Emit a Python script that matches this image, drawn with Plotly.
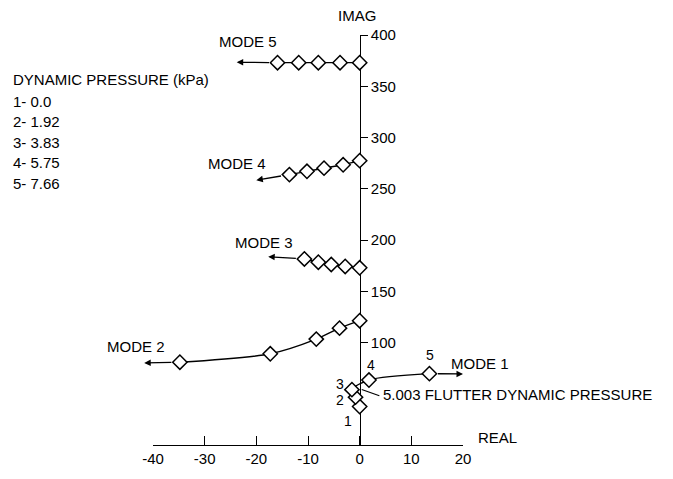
import plotly.graph_objects as go

# ---------------- data ----------------
pressures = [0.0, 1.92, 3.83, 5.75, 7.66]          # kPa, points 1..5

mode1_re = [0.0, -0.8, -1.5, 1.8, 13.5]
mode1_im = [37.5, 46.7, 54.0, 63.4, 69.6]
mode2_re = [0.0, -3.9, -8.4, -17.3, -34.8]
mode2_im = [121.3, 114.0, 103.3, 89.0, 80.8]
mode3_re = [0.0, -2.8, -5.5, -8.0, -10.7]
mode3_im = [172.9, 174.2, 176.1, 178.3, 181.5]
mode4_re = [0.0, -3.2, -6.9, -10.2, -13.6]
mode4_im = [277.4, 273.4, 270.1, 267.0, 263.8]
mode5_re = [0.0, -3.8, -8.0, -11.8, -15.9]
mode5_im = [373.0, 373.0, 373.0, 373.0, 373.0]

# arrow tips showing the trend direction of each mode
arrow_tip_re = [20.0, -41.7, -17.7, -20.0, -23.8]
arrow_tip_im = [69.3, 80.1, 183.7, 258.4, 373.4]

flutter_q = 5.003
flutter_re, flutter_im = 0.4, 54.2

x_ticks = [-40, -30, -20, -10, 0, 10, 20]
x_ticktext = ["-40", "-30", "-20", "-10", "0", "10", "20"]
y_ticks = [100, 150, 200, 250, 300, 350, 400]

modes = [(mode1_re, mode1_im), (mode2_re, mode2_im), (mode3_re, mode3_im),
         (mode4_re, mode4_im), (mode5_re, mode5_im)]

# ---------------- layout geometry ----------------
W, H = 673, 479
ML, MR, MT, MB = 153, 210, 35, 23
PW, PH = W - ML - MR, H - MT - MB

def P(xpix, ypix):
    return (xpix - ML) / PW, (H - MB - ypix) / PH

FONT = "Liberation Sans, Arial, sans-serif"
FS = 15

fig = go.Figure()
for re_, im_ in modes:
    fig.add_trace(go.Scatter(
        x=re_, y=im_, mode="lines+markers",
        line=dict(color="black", width=1.4, shape="spline", smoothing=0.8),
        marker=dict(symbol="diamond", size=11, color="white",
                    line=dict(color="black", width=1.5)),
        showlegend=False, cliponaxis=False, hoverinfo="skip"))

ann = []
# trend arrows
for (re_, im_), tx, ty in zip(modes, arrow_tip_re, arrow_tip_im):
    ann.append(dict(x=tx, y=ty, ax=re_[-1], ay=im_[-1], xref="x", yref="y",
                    axref="x", ayref="y", text="", showarrow=True,
                    arrowhead=2, arrowsize=1, arrowwidth=1.3,
                    arrowcolor="black", startstandoff=7))

def label(text, xpix, ypix, anchor="center", size=FS):
    xp, yp = P(xpix, ypix)
    ann.append(dict(x=xp, y=yp, xref="paper", yref="paper", text=text,
                    showarrow=False, xanchor=anchor, yanchor="middle",
                    borderpad=0,
                    font=dict(family=FONT, size=size, color="black")))

label("MODE 5", 248, 42)
label("MODE 4", 237, 167)
label("MODE 3", 264, 248)
label("MODE 2", 136, 355)
label("MODE 1", 480, 372)
label("IMAG", 357, 15)
label("REAL", 477, 448, "left")
label("DYNAMIC PRESSURE (kPa)", 12, 81, "left")
for i, q in enumerate(pressures):
    label(f"{i+1}- {q:.2f}".rstrip("0") if q != 0 else f"{i+1}- 0.0", 12, 103 + 21 * i, "left")

# point numbers on mode 1
for txt, xp_, yp_ in [("1", 348, 431), ("2", 340, 410), ("3", 340, 393),
                      ("4", 371, 374), ("5", 430, 364)]:
    label(txt, xp_, yp_, size=14)

# flutter leader + text
ann.append(dict(x=flutter_re, y=flutter_im, ax=4.1, ay=47.5, xref="x", yref="y",
                axref="x", ayref="y", text="", showarrow=True, arrowhead=0,
                arrowwidth=1.2, arrowcolor="black"))
label(f"{flutter_q:.3f} FLUTTER DYNAMIC PRESSURE", 382, 404, "left")

fig.update_layout(
    width=W, height=H, margin=dict(l=ML, r=MR, t=MT, b=MB),
    paper_bgcolor="white", plot_bgcolor="white",
    font=dict(family=FONT, size=FS, color="black"),
    annotations=ann,
    xaxis=dict(range=[-40, 20], tickvals=x_ticks, ticktext=x_ticktext,
               ticks="inside", ticklen=9, tickwidth=1.3, tickcolor="black",
               showline=True, linecolor="black", linewidth=1.4,
               showgrid=False, zeroline=False, fixedrange=True,
               tickfont=dict(family=FONT, size=FS), layer="below traces"),
    yaxis=dict(range=[0, 400], tickvals=y_ticks, anchor="free",
               position=40 / 60, side="right", ticks="outside", ticklen=7,
               tickwidth=1.3, tickcolor="black", showline=True,
               linecolor="black", linewidth=1.4, showgrid=False,
               zeroline=False, fixedrange=True,
               tickfont=dict(family=FONT, size=FS), layer="below traces"),
)

fig.write_html("out.html")
